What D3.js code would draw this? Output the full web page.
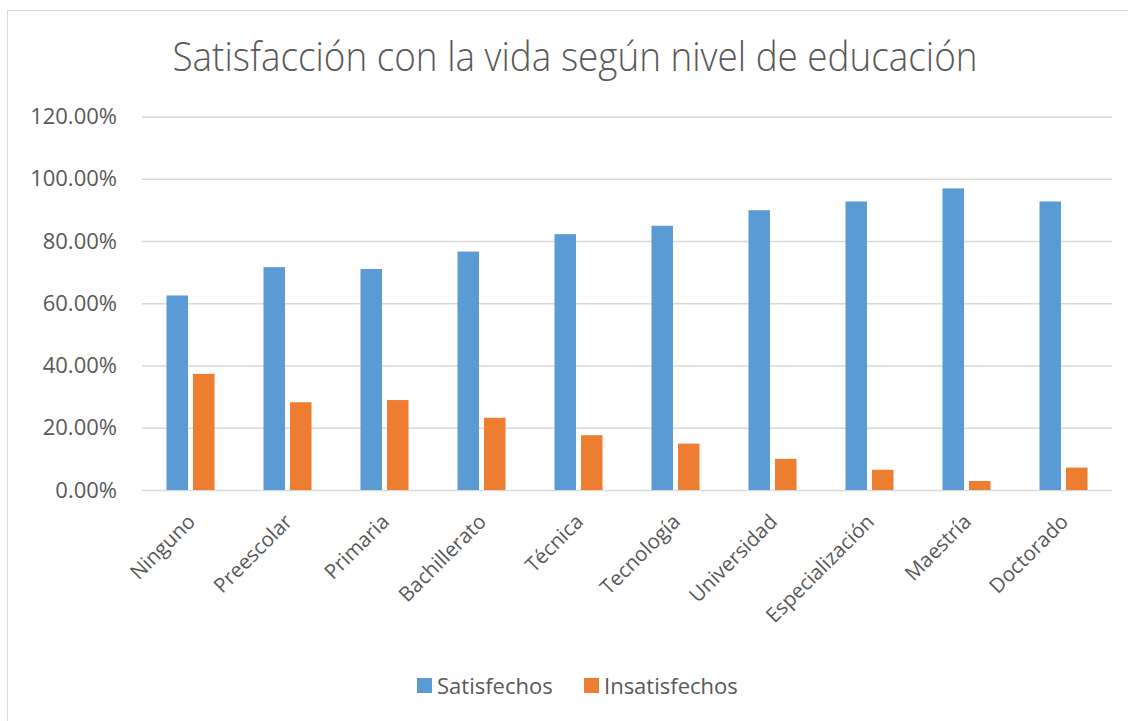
<!DOCTYPE html>
<html lang="es">
<head>
    <meta charset="UTF-8">
    <script src="https://d3js.org/d3.v7.min.js"></script>
    <title>Satisfacción con la vida</title>
    <style>
        body { margin: 0; background: #fff; }
        svg { display: block; }
        text { font-family: "Open Sans", sans-serif; fill: #595959; }
    </style>
</head>
<body>
    <script>
        // data
        const niveles = ["Ninguno", "Preescolar", "Primaria", "Bachillerato", "Técnica",
                         "Tecnología", "Universidad", "Especialización", "Maestría", "Doctorado"];
        const satisfechos   = [62.5, 71.6, 71.0, 76.6, 82.2, 84.9, 89.9, 92.7, 96.9, 92.7];
        const insatisfechos = [37.3, 28.2, 28.9, 23.2, 17.6, 14.9, 10.0, 6.5, 2.9, 7.2];
        const series = ["Satisfechos", "Insatisfechos"];
        const colores = ["#5B9BD5", "#ED7D31"];
        const yTicks = [0, 20, 40, 60, 80, 100, 120];

        const w = 1128;
        const h = 721;
        const plotLeft = 142, plotRight = 1112;
        const plotTop = 116.5, plotBottom = 490;

        const svg = d3.select("body").append("svg")
            .attr("width", w)
            .attr("height", h);

        // chart border (only left/top edges are inside the window)
        svg.append("rect")
            .attr("x", 7.5).attr("y", 10.5)
            .attr("width", w).attr("height", h)
            .attr("fill", "none")
            .attr("stroke", "#d9d9d9");

        // title
        svg.append("text")
            .attr("x", 575).attr("y", 71)
            .attr("text-anchor", "middle")
            .attr("font-size", 40)
            .attr("font-weight", 300)
            .attr("textLength", 805)
            .attr("lengthAdjust", "spacingAndGlyphs")
            .text("Satisfacción con la vida según nivel de educación");

        //scales
        const x0 = d3.scaleBand()
            .domain(niveles)
            .range([plotLeft, plotRight])
            .paddingInner(0.505)
            .paddingOuter(0.2525);

        const x1 = d3.scaleBand()
            .domain(series)
            .range([0, x0.bandwidth()])
            .paddingInner(0.19);

        const y = d3.scaleLinear()
            .domain([0, 120])
            .range([plotBottom, plotTop]);

        // y axis + gridlines
        const yAxis = d3.axisLeft(y)
            .tickValues(yTicks)
            .tickSize(-(plotRight - plotLeft))
            .tickPadding(25)
            .tickFormat(d => d.toFixed(2) + "%");

        const gy = svg.append("g")
            .attr("transform", "translate(" + plotLeft + ",0)")
            .call(yAxis);
        gy.select(".domain").remove();
        gy.selectAll(".tick line").attr("stroke", "#d9d9d9").attr("stroke-width", 1.3);
        gy.selectAll(".tick text")
            .attr("font-size", 22)
            .attr("font-family", "Open Sans, sans-serif")
            .attr("fill", "#595959");

        // bars
        const rows = niveles.map((n, i) => ({
            nivel: n,
            valores: [
                { serie: series[0], v: satisfechos[i] },
                { serie: series[1], v: insatisfechos[i] }
            ]
        }));

        const grupos = svg.append("g").selectAll("g")
            .data(rows)
            .enter()
            .append("g")
            .attr("transform", d => "translate(" + x0(d.nivel) + ",0)");

        grupos.selectAll("rect")
            .data(d => d.valores)
            .enter()
            .append("rect")
            .attr("x", d => x1(d.serie))
            .attr("y", d => y(d.v))
            .attr("width", x1.bandwidth())
            .attr("height", d => y(0) - y(d.v))
            .attr("fill", (d, i) => colores[i]);

        // x labels, rotated
        svg.append("g").selectAll("text")
            .data(niveles)
            .enter()
            .append("text")
            .attr("transform", d => "translate(" + (x0(d) + x0.bandwidth() / 2 + 6) + ",523) rotate(-45)")
            .attr("text-anchor", "end")
            .attr("font-size", 20.5)
            .text(d => d);

        // legend
        const legendX = [417, 584];
        const legend = svg.append("g");
        legend.selectAll("rect")
            .data(series)
            .enter()
            .append("rect")
            .attr("x", (d, i) => legendX[i])
            .attr("y", 678)
            .attr("width", 15)
            .attr("height", 15)
            .attr("fill", (d, i) => colores[i]);

        legend.selectAll("text")
            .data(series)
            .enter()
            .append("text")
            .attr("x", (d, i) => legendX[i] + 20)
            .attr("y", 686)
            .attr("dy", "0.35em")
            .attr("font-size", 22)
            .text(d => d);
    </script>
</body>
</html>
